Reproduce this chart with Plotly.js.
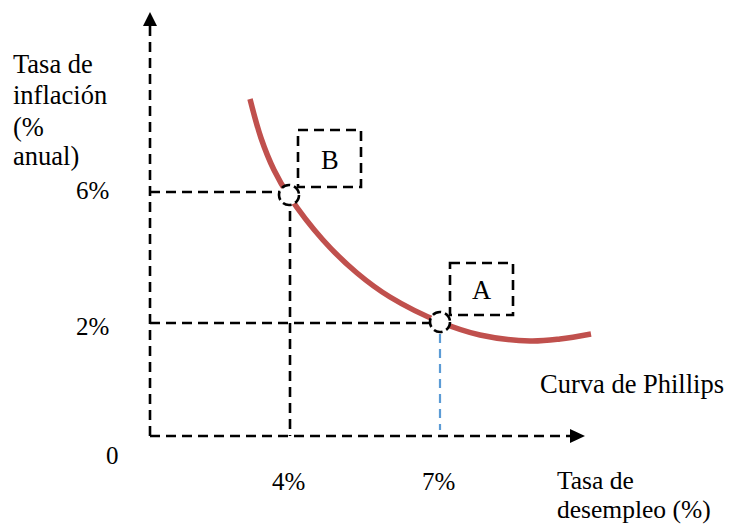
<!DOCTYPE html>
<html>
<head>
<meta charset="utf-8">
<script src="https://cdn.plot.ly/plotly-3.0.1.min.js"></script>
<style>html,body{margin:0;padding:0;background:#fff;}#chart{width:729px;height:524px;}</style>
</head>
<body>
<div id="chart"></div>
<script>
// Schematic diagram coordinates (horizontal = unemployment direction, vertical = inflation, screen-like units)
const curveX = [250, 261, 274, 289, 323, 357, 390, 440, 480, 530, 560, 591];
const curveY = [99, 138, 170, 196, 240, 273, 297, 322, 335, 341, 339, 334];
const origin = [150, 436];
const axisEnd = [585, 12];
const pointNames = ['B', 'A'];
const pointX = [289, 440];
const pointY = [195, 322];
const boxX0 = [298, 450];
const boxX1 = [361, 513];
const boxY0 = [130, 263];
const boxY1 = [187, 315];
const yTickLabels = ['6%', '2%'];
const xTickLabels = ['4%', '7%'];
const yAxisTitleLines = ['Tasa de', 'inflación', '(%', 'anual)'];
const xAxisTitleLines = ['Tasa de', 'desempleo (%)'];
const curveLabel = 'Curva de Phillips';
const zeroLabel = '0';

const FAMILY = 'Liberation Serif, Times New Roman, serif';
const FONT_NUM = {family: FAMILY, size: 25, color: '#000'};
const FONT_TXT = {family: FAMILY, size: 26.5, color: '#000'};
const FONT_XT = {family: FAMILY, size: 25.5, color: '#000'};
const DASH = '10px,6px';
const R = 10;

const traces = [];
// guide lines (black dashed) from axes to points
traces.push({x: [origin[0], pointX[0]], y: [pointY[0] - 3, pointY[0] - 3], mode: 'lines',
  line: {color: '#000', width: 2.6, dash: DASH}, hoverinfo: 'skip'});
traces.push({x: [pointX[0] + 1, pointX[0] + 1], y: [pointY[0], origin[1]], mode: 'lines',
  line: {color: '#000', width: 2.6, dash: DASH}, hoverinfo: 'skip'});
traces.push({x: [origin[0], pointX[1]], y: [pointY[1] + 1, pointY[1] + 1], mode: 'lines',
  line: {color: '#000', width: 2.6, dash: DASH}, hoverinfo: 'skip'});
traces.push({x: [pointX[1], pointX[1]], y: [pointY[1] + R + 2, origin[1] - 6], mode: 'lines',
  line: {color: '#5B9BD5', width: 2.2, dash: '9px,6px'}, hoverinfo: 'skip'});
// axes
traces.push({x: [origin[0], origin[0]], y: [origin[1], axisEnd[1] + 14], mode: 'lines',
  line: {color: '#000', width: 2.6, dash: DASH}, hoverinfo: 'skip'});
traces.push({x: [origin[0], axisEnd[0] - 14], y: [origin[1], origin[1]], mode: 'lines',
  line: {color: '#000', width: 2.6, dash: DASH}, hoverinfo: 'skip'});
// Phillips curve
traces.push({x: curveX, y: curveY, mode: 'lines',
  line: {color: '#C0504D', width: 5.5, shape: 'spline', smoothing: 1.0}, hoverinfo: 'skip'});

const shapes = [];
shapes.push({type: 'path', xref: 'x', yref: 'y', layer: 'above',
  path: `M ${origin[0]} ${axisEnd[1]} L ${origin[0] - 7} ${axisEnd[1] + 14} L ${origin[0] + 7} ${axisEnd[1] + 14} Z`,
  fillcolor: '#000', line: {width: 0}});
shapes.push({type: 'path', xref: 'x', yref: 'y', layer: 'above',
  path: `M ${axisEnd[0]} ${origin[1]} L ${axisEnd[0] - 15} ${origin[1] - 7} L ${axisEnd[0] - 15} ${origin[1] + 7} Z`,
  fillcolor: '#000', line: {width: 0}});
for (let i = 0; i < pointX.length; i++) {
  shapes.push({type: 'circle', xref: 'x', yref: 'y', layer: 'above',
    x0: pointX[i] - R, x1: pointX[i] + R, y0: pointY[i] - R, y1: pointY[i] + R,
    fillcolor: '#fff', line: {color: '#000', width: 2.6, dash: '9px,4px'}});
}
for (let i = 0; i < boxX0.length; i++) {
  shapes.push({type: 'rect', xref: 'x', yref: 'y', layer: 'above',
    x0: boxX0[i], x1: boxX1[i], y0: boxY0[i], y1: boxY1[i],
    fillcolor: 'rgba(0,0,0,0)', line: {color: '#000', width: 2.6, dash: DASH}});
}

const ann = [];
function txt(text, x, y, xanchor, font) {
  ann.push({text: text, x: x, y: y, xref: 'x', yref: 'y', showarrow: false,
    xanchor: xanchor || 'center', yanchor: 'middle', font: font || FONT_TXT, borderpad: 0});
}
for (let i = 0; i < pointNames.length; i++) {
  txt(pointNames[i], (boxX0[i] + boxX1[i]) / 2, (boxY0[i] + boxY1[i]) / 2 + 1, 'center', FONT_TXT);
}
txt(yTickLabels[0], 92, 190, 'center', FONT_NUM);
txt(yTickLabels[1], 92, 326, 'center', FONT_NUM);
txt(xTickLabels[0], pointX[0] - 1, 481, 'center', FONT_NUM);
txt(xTickLabels[1], pointX[1] - 2, 481, 'center', FONT_NUM);
txt(zeroLabel, 112, 455, 'center', FONT_NUM);
const yTitleY = [64, 95, 127, 156];
yAxisTitleLines.forEach((t, i) => txt(t, 12, yTitleY[i], 'left'));
const xTitleY = [480, 509];
xAxisTitleLines.forEach((t, i) => txt(t, 556, xTitleY[i], 'left', FONT_XT));
txt(curveLabel, 539, 384, 'left');

const layout = {
  width: 729, height: 524,
  margin: {l: 0, r: 0, t: 0, b: 0},
  paper_bgcolor: '#fff', plot_bgcolor: '#fff',
  showlegend: false,
  xaxis: {range: [0, 729], visible: false, fixedrange: true},
  yaxis: {range: [524, 0], visible: false, fixedrange: true},
  shapes: shapes,
  annotations: ann
};

Plotly.newPlot('chart', traces, layout, {displayModeBar: false, staticPlot: true});
</script>
</body>
</html>
